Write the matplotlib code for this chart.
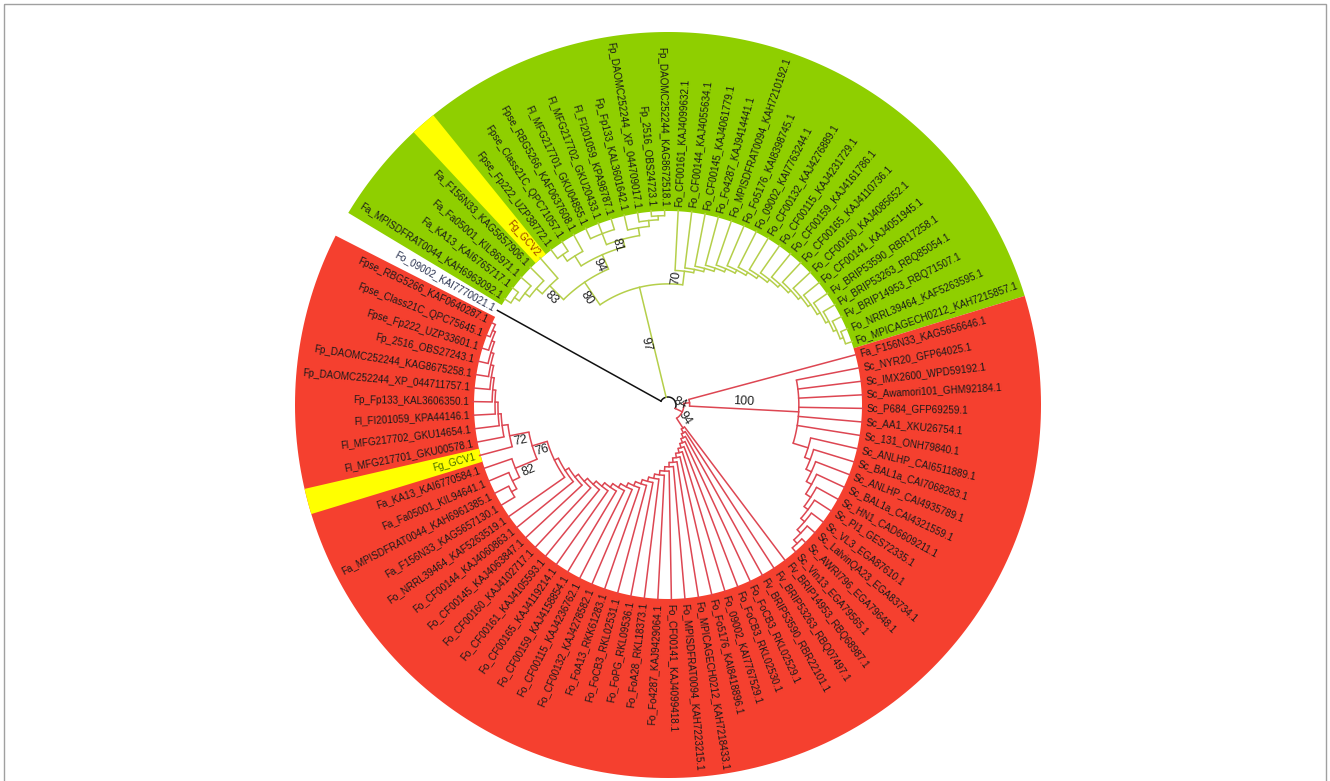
import numpy as np
import matplotlib.pyplot as plt

plt.rcParams['font.family'] = ['Liberation Sans', 'DejaVu Sans']

# Tree in Newick form: internal labels are bootstrap values, branch lengths are
# fractions of the tip radius (tips are aligned on the label ring).
outgroup = "Fo_09002_KAI7770021.1"

green_clade = (
    "((((((Fa_MPISDFRAT0044_KAH6963092.1,Fa_KA13_KAI6765717.1):0.03,"
    "Fa_Fa05001_KIL86971.1):0.03,Fa_F156N33_KAG5657906.1):0.04,Fg_GCV2)83:0.10,"
    "(((Fpse_Fp222_UZP38772.1,Fpse_Class21C_QPC71057.1):0.04,Fpse_RBG5266_KAF0637608.1):0.06,"
    "((Fl_MFG217701_GKU04855.1,Fl_MFG217702_GKU20433.1,Fl_FI201059_KPA98787.1):0.06,"
    "(Fp_Fp133_KAL3601642.1,(Fp_DAOMC252244_XP_044709017.1,"
    "(Fp_2516_OBS24723.1,Fp_DAOMC252244_KAG8672518.1):0.02):0.03):0.04)81:0.04)94:0.08)80:0.14,"
    "(Fo_CF00161_KAJ4099632.1,(Fo_CF00144_KAJ4055634.1,(Fo_CF00145_KAJ4061779.1,"
    "(Fo_Fo4287_KAJ9414441.1,(Fo_MPISDFRAT0094_KAH7210192.1,(Fo_Fo5176_KAI8398745.1,"
    "(Fo_09002_KAI7763244.1,(Fo_CF00132_KAJ4276889.1,(Fo_CF00115_KAJ4231729.1,"
    "(Fo_CF00159_KAJ4161786.1,(Fo_CF00165_KAJ4110736.1,(Fo_CF00160_KAJ4085652.1,"
    "(Fo_CF00141_KAJ4051945.1,(Fv_BRIP53590_RBR17258.1,(Fv_BRIP53263_RBQ85054.1,"
    "(Fv_BRIP14953_RBQ71507.1,(Fo_NRRL39464_KAF5263595.1,Fo_MPICAGECH0212_KAH7215857.1)"
    ":0.017):0.017):0.017):0.017):0.017):0.017):0.017):0.017)"
    ":0.017):0.017):0.017):0.017):0.017):0.017):0.017):0.017)70:0.07)97:0.58"
)

red_clade = (
    "((Fa_F156N33_KAG5656646.1,"
    "(Sc_NYR20_GFP64025.1,Sc_IMX2600_WPD59192.1,Sc_Awamori101_GHM92184.1,"
    "Sc_P684_GFP69259.1,Sc_AA1_XKU26754.1,Sc_131_ONH79840.1,"
    "(Sc_ANLHP_CAI6511889.1,(Sc_BAL1a_CAI7068283.1,(Sc_ANLHP_CAI4935789.1,"
    "(Sc_BAL1a_CAI4321559.1,(Sc_HN1_CAD6609211.1,(Sc_PI1_GES72335.1,"
    "(Sc_VL3_EGA87610.1,(Sc_LalvinQA23_EGA83734.1,"
    "(Sc_AWRI796_EGA79648.1,Sc_Vin13_EGA79565.1):0.025):0.025):0.025):0.025)"
    ":0.03):0.03):0.03):0.03):0.08)100:0.56):0.03,"
    "(Fv_BRIP14953_RBQ68987.1,(Fv_BRIP53263_RBQ07497.1,(Fv_BRIP53590_RBR22101.1,"
    "(Fo_FoCB3_RKL02529.1,(Fo_FoCB3_RKL02530.1,(Fo_09002_KAI7767529.1,"
    "(Fo_Fo5176_KAI8418896.1,(Fo_MPICAGECH0212_KAH7218433.1,(Fo_MPISDFRAT0094_KAH7223215.1,"
    "(Fo_CF00141_KAJ4099418.1,(Fo_Fo4287_KAJ9429064.1,(Fo_FoA28_RKL18373.1,"
    "(Fo_FoPG_RKL09536.1,(Fo_FoCB3_RKL02531.1,(Fo_FoA13_RKK61283.1,"
    "(Fo_CF00132_KAJ4278582.1,(Fo_CF00115_KAJ4236762.1,(Fo_CF00159_KAJ4158854.1,"
    "(Fo_CF00165_KAJ4119214.1,(Fo_CF00161_KAJ4105593.1,(Fo_CF00160_KAJ4102717.1,"
    "(Fo_CF00145_KAJ4063847.1,(Fo_CF00144_KAJ4060863.1,(Fo_NRRL39464_KAF5263519.1,"
    "((((Fa_F156N33_KAG5657130.1,Fa_MPISDFRAT0044_KAH6961385.1):0.03,"
    "Fa_Fa05001_KIL94641.1):0.04,Fa_KA13_KAI6770584.1)82:0.12,"
    "(Fg_GCV1,(Fl_MFG217701_GKU00578.1,(Fl_MFG217702_GKU14654.1,(Fl_FI201059_KPA44146.1,"
    "(Fp_Fp133_KAL3606350.1,(Fp_DAOMC252244_XP_044711757.1,(Fp_DAOMC252244_KAG8675258.1,"
    "(Fp_2516_OBS27243.1,(Fpse_Fp222_UZP33601.1,(Fpse_Class21C_QPC75645.1,"
    "Fpse_RBG5266_KAF0640287.1):0.015):0.015):0.015):0.015):0.015):0.015):0.015):0.015)"
    ":0.03)72:0.10)76:0.08"
    "):0.022):0.022):0.022):0.022):0.022):0.022):0.022):0.022"
    "):0.022):0.022):0.022):0.022):0.022):0.022):0.022):0.022"
    "):0.022):0.022):0.022):0.022):0.022):0.022):0.022)94:0.06)84:0.04"
)

clade_line_colors = ['#111111', '#b5cf4a', '#dd4652']   # outgroup, green clade, red clade
clade_fill_colors = [None, '#8fcf00', '#f5402f']
highlighted = ['Fg_GCV1', 'Fg_GCV2']
highlight_text = {'Fg_GCV1': '#4a6e00', 'Fg_GCV2': '#9a3d00'}

CX, CY = 668, 405
R_ROOT, R_TIP, R_LABEL, R_IN, R_OUT = 8, 195, 199, 194, 373
START_ANGLE, STEP = 151, 4


def parse_newick(s):
    s = s.replace(' ', '').rstrip(';')
    pos = 0

    def node():
        nonlocal pos
        kids = []
        if s[pos] == '(':
            pos += 1
            while True:
                kids.append(node())
                if s[pos] == ',':
                    pos += 1
                    continue
                pos += 1  # ')'
                break
        start = pos
        while pos < len(s) and s[pos] not in ',():':
            pos += 1
        name = s[start:pos]
        length = 0.0
        if pos < len(s) and s[pos] == ':':
            pos += 1
            start = pos
            while pos < len(s) and s[pos] not in ',()':
                pos += 1
            length = float(s[start:pos])
        return {'name': name, 'len': length, 'children': kids}

    return node()


def leaves_of(n):
    if not n['children']:
        return [n]
    out = []
    for c in n['children']:
        out += leaves_of(c)
    return out


def layout(n, r_parent):
    if n['children']:
        n['r'] = r_parent + n['len'] * R_TIP
        for c in n['children']:
            layout(c, n['r'])
        n['ang'] = (n['children'][0]['ang'] + n['children'][-1]['ang']) / 2
    else:
        n['r'] = R_TIP


def xy(r, a):
    t = np.radians(a)
    return CX + r * np.cos(t), CY - r * np.sin(t)


def text_rot(a):
    a = (a + 180) % 360 - 180
    if -90 <= a <= 90:
        return a, 'left'
    return (a - 180 if a > 0 else a + 180), 'right'


root = parse_newick("(" + outgroup + "," + green_clade + "," + red_clade + ");")
all_leaves = leaves_of(root)
for k, lf in enumerate(all_leaves):
    lf['ang'] = START_ANGLE - STEP * k
root['r'] = R_ROOT
for c in root['children']:
    layout(c, R_ROOT)
root['ang'] = (root['children'][0]['ang'] + root['children'][-1]['ang']) / 2

fig = plt.figure(figsize=(13.3, 7.81), dpi=100)
ax = fig.add_axes([0, 0, 1, 1])
ax.set_xlim(0, 1330)
ax.set_ylim(781, 0)
ax.axis('off')

# coloured rings behind the labels
half = STEP / 2
for clade, fill in zip(root['children'], clade_fill_colors):
    if fill is None:
        continue
    angs = [lf['ang'] for lf in leaves_of(clade)]
    t = np.linspace(max(angs) + half, min(angs) - half, 200)
    xo, yo = xy(R_OUT, t)
    xi, yi = xy(R_IN, t[::-1])
    ax.fill(np.r_[xo, xi], np.r_[yo, yi], color=fill, lw=0, zorder=1)
for lf in all_leaves:
    if lf['name'] in highlighted:
        t = np.linspace(lf['ang'] + half, lf['ang'] - half, 20)
        xo, yo = xy(R_OUT, t)
        xi, yi = xy(R_IN, t[::-1])
        ax.fill(np.r_[xo, xi], np.r_[yo, yi], color='#ffff00', lw=0, zorder=1.5)


def support_label(n, r_parent):
    rm = (r_parent + n['r']) / 2
    am = n['ang'] + np.degrees(7 / rm)
    rot, _ = text_rot(n['ang'])
    ax.text(*xy(rm, am), n['name'], fontsize=9, color='#222222',
            rotation=rot, rotation_mode='anchor', ha='center', va='center', zorder=4)


def draw_edges(n, color):
    if not n['children']:
        return
    a0, a1 = n['children'][0]['ang'], n['children'][-1]['ang']
    t = np.linspace(a0, a1, max(3, int(abs(a1 - a0) * 2)))
    ax.plot(*xy(n['r'], t), color=color, lw=1.1, zorder=2, solid_capstyle='butt')
    for c in n['children']:
        ax.plot(*xy(np.array([n['r'], c['r']]), c['ang']), color=color, lw=1.1, zorder=2)
        draw_edges(c, color)
        if c['children'] and c['name']:
            support_label(c, n['r'])


# root arc in black, then each clade in its own colour
a0, a1 = root['children'][0]['ang'], root['children'][-1]['ang']
t = np.linspace(a0, a1, 100)
ax.plot(*xy(R_ROOT, t), color='#111111', lw=1.1, zorder=2)
for c, col in zip(root['children'], clade_line_colors):
    ax.plot(*xy(np.array([R_ROOT, c['r']]), c['ang']), color=col, lw=1.1, zorder=2)
    draw_edges(c, col)
    if c['children'] and c['name']:
        support_label(c, R_ROOT)

for lf in all_leaves:
    rot, ha = text_rot(lf['ang'])
    col = highlight_text.get(lf['name'], '#1a1a1a')
    if lf['name'] == outgroup:
        col = '#2b3350'
    ax.text(*xy(R_LABEL, lf['ang']), lf['name'], fontsize=7.1, color=col,
            rotation=rot, rotation_mode='anchor', ha=ha, va='center', zorder=4)

ax.add_patch(plt.Rectangle((4, 4), 1322, 800, fill=False, ec='#a0a0a0', lw=1.0, zorder=5))

fig.savefig('out.png', dpi=100)
